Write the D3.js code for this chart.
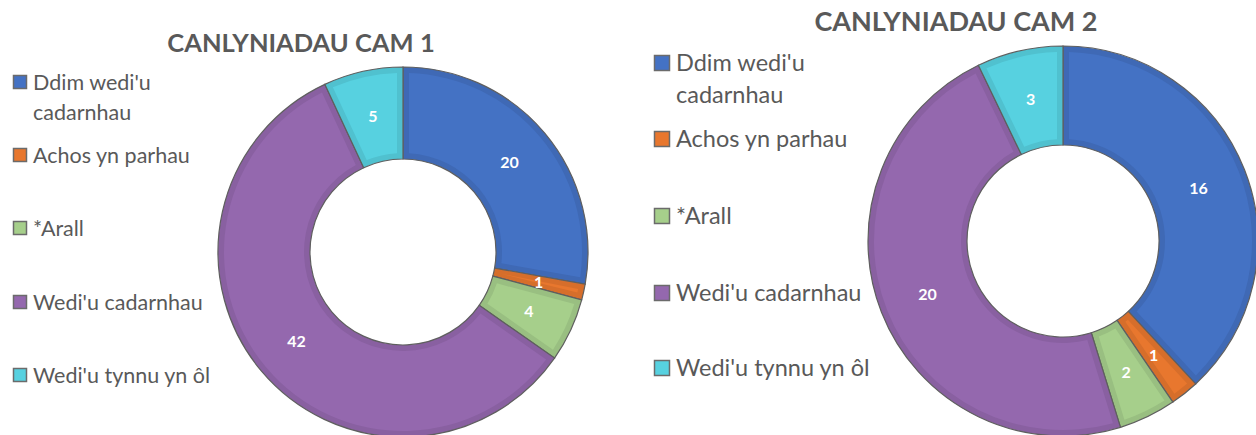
<!DOCTYPE html>
<html>
<head>
<meta charset="utf-8">
<script src="https://cdn.jsdelivr.net/npm/d3@7"></script>
<style>
  html, body { margin: 0; padding: 0; background: #fff; }
  svg { display: block; font-family: Lato, "Open Sans", sans-serif; }
</style>
</head>
<body>
<div id="chart"></div>
<script>
// categories (legend order = slice order, clockwise from 12 o'clock)
const categories = ["Ddim wedi'u cadarnhau", "Achos yn parhau", "*Arall", "Wedi'u cadarnhau", "Wedi'u tynnu yn ôl"];
const legendLines = [["Ddim wedi'u", "cadarnhau"], ["Achos yn parhau"], ["*Arall"], ["Wedi'u cadarnhau"], ["Wedi'u tynnu yn ôl"]];
const cam1Values = [20, 1, 4, 42, 5];
const cam2Values = [16, 1, 2, 20, 3];
const titles = ["CANLYNIADAU CAM 1", "CANLYNIADAU CAM 2"];
const colors = ["#4472C4", "#E8772E", "#A6CF8B", "#9468AE", "#57D1E0"];

const W = 1256, H = 435;
const svg = d3.select("#chart").append("svg").attr("width", W).attr("height", H);

const panels = [
    {values: cam1Values, title: titles[0], cx: 403, cy: 252, R: 185, r: 93,
     titleX: 301, titleY: 52, titleSize: 25.5,
     legX: 13, legY: [82, 155, 228, 302, 375], lineH: 30, box: 14, legSize: 21.5, labelSize: 16},
    {values: cam2Values, title: titles[1], cx: 1063, cy: 241, R: 195, r: 96,
     titleX: 956, titleY: 31, titleSize: 27,
     legX: 654, legY: [63, 139, 216, 293, 368], lineH: 32, box: 16, legSize: 23.5, labelSize: 16}
];

const pie = d3.pie().sort(null).value(d => d);

panels.forEach(p => {
    const g = svg.append("g");

    // title
    g.append("text")
        .attr("x", p.titleX).attr("y", p.titleY)
        .attr("text-anchor", "middle")
        .attr("font-size", p.titleSize).attr("font-weight", 700)
        .attr("fill", "#595959")
        .text(p.title);

    const arcs = pie(p.values);
    const arc = d3.arc().innerRadius(p.r).outerRadius(p.R);
    const inner = d3.arc().innerRadius(p.r + 6).outerRadius(p.R - 6).padRadius(100);

    const ring = g.append("g").attr("transform", `translate(${p.cx},${p.cy})`);

    // slice with darker edge band
    ring.selectAll("path.outer").data(arcs).join("path")
        .attr("class", "outer")
        .attr("d", arc)
        .attr("fill", (d, i) => d3.color(colors[i]).darker(0.22))
        .attr("stroke", "#5f5f5f").attr("stroke-width", 1.2);

    ring.selectAll("path.inner").data(arcs).join("path")
        .attr("class", "inner")
        .attr("d", d => inner({startAngle: d.startAngle, endAngle: d.endAngle, padAngle: 0.12}))
        .attr("fill", (d, i) => colors[i]);

    // data labels
    ring.selectAll("text").data(arcs).join("text")
        .attr("transform", d => `translate(${arc.centroid(d)})`)
        .attr("text-anchor", "middle").attr("dy", "0.36em")
        .attr("font-size", p.labelSize).attr("font-weight", 700)
        .attr("fill", "#fff")
        .text(d => d.data);

    // legend
    const leg = g.append("g");
    legendLines.forEach((lines, i) => {
        const y = p.legY[i];
        leg.append("rect")
            .attr("x", p.legX + 0.5).attr("y", y - p.box / 2 + 0.5)
            .attr("width", p.box - 1).attr("height", p.box - 1)
            .attr("fill", colors[i])
            .attr("stroke", "#6b6b6b").attr("stroke-width", 1.5);
        lines.forEach((t, j) => {
            leg.append("text")
                .attr("x", p.legX + p.box + 6).attr("y", y + j * p.lineH)
                .attr("dy", "0.35em")
                .attr("font-size", p.legSize)
                .attr("fill", "#595959")
                .text(t);
        });
    });
});
</script>
</body>
</html>
